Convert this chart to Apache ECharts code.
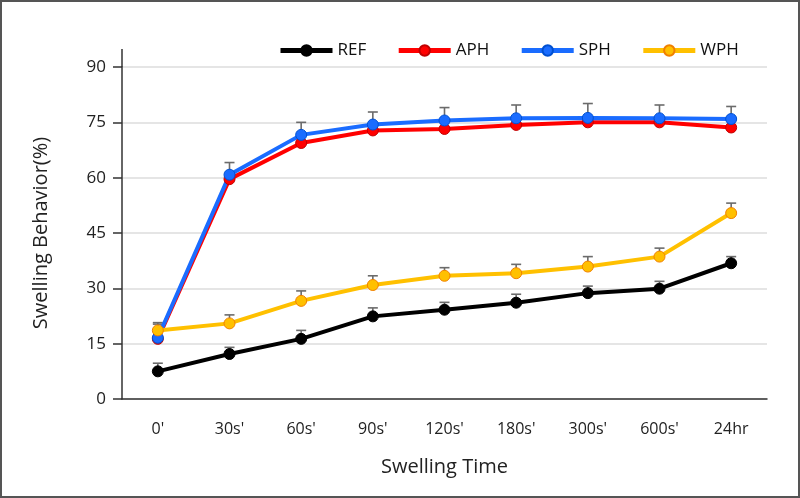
<!DOCTYPE html>
<html><head><meta charset="utf-8">
<script src="https://cdn.jsdelivr.net/npm/echarts@6/dist/echarts.min.js"></script>
<style>html,body{margin:0;padding:0;background:#fff}#c{width:800px;height:498px}</style>
</head><body><div id="c"></div>
<script>
const categories = ["0'", "30s'", "60s'", "90s'", "120s'", "180s'", "300s'", "600s'", "24hr"];
const yTicks = [0, 15, 30, 45, 60, 75, 90];
const REF = [7.5, 12.2, 16.3, 22.4, 24.2, 26.1, 28.7, 29.9, 36.8];
const APH = [16.3, 59.6, 69.4, 72.8, 73.2, 74.3, 75.0, 75.0, 73.6];
const SPH = [16.6, 60.8, 71.6, 74.4, 75.5, 76.1, 76.2, 76.1, 75.9];
const WPH = [18.6, 20.5, 26.6, 30.9, 33.4, 34.1, 35.9, 38.6, 50.4];
const REF_err = [2.2, 1.8, 2.3, 2.3, 2.0, 2.3, 1.9, 2.0, 1.8];
const SPH_err = [3.7, 3.3, 3.4, 3.4, 3.5, 3.6, 3.9, 3.6, 3.4];
const WPH_err = [2.1, 2.3, 2.7, 2.5, 2.2, 2.4, 2.7, 2.3, 2.7];

const FONT = "'Open Sans', 'Noto Sans', sans-serif";
const chart = echarts.init(document.getElementById('c'), null, {renderer: 'canvas'});

function errData(vals, errs) { return vals.map((v, i) => [i, v, errs[i]]); }
function errSeries(vals, errs) {
  return {
    type: 'custom', silent: true, z: 1,
    data: errData(vals, errs),
    renderItem: function (params, api) {
      const x = api.value(0), v = api.value(1), e = api.value(2);
      const p0 = api.coord([x, v]);
      const p1 = api.coord([x, v + e]);
      const w = 5;
      const st = {stroke: '#6b6b6b', lineWidth: 1.6};
      return {type: 'group', children: [
        {type: 'line', shape: {x1: p0[0], y1: p0[1], x2: p1[0], y2: p1[1]}, style: st},
        {type: 'line', shape: {x1: p1[0] - w, y1: p1[1], x2: p1[0] + w, y2: p1[1]}, style: st}
      ]};
    }
  };
}
function lineSeries(name, data, color, border) {
  return {
    name: name, type: 'line', data: data, z: 3,
    symbol: 'circle', symbolSize: 11,
    lineStyle: {color: color, width: 4},
    itemStyle: {color: color, borderColor: border, borderWidth: 1}
  };
}

chart.setOption({
  animation: false,
  textStyle: {fontFamily: FONT},
  grid: {left: 122, right: 33, top: 67, bottom: 99},
  legend: {
    data: ['REF', 'APH', 'SPH', 'WPH'],
    left: 273, top: 37, itemWidth: 52, itemHeight: 13, itemGap: 30,
    lineStyle: {width: 5},
    textStyle: {fontSize: 17, color: '#111', fontFamily: FONT}
  },
  xAxis: {
    type: 'category', data: categories, boundaryGap: true,
    name: 'Swelling Time', nameLocation: 'middle', nameGap: 58,
    nameTextStyle: {fontSize: 20, color: '#222', fontFamily: FONT},
    axisLine: {lineStyle: {color: '#333', width: 1.5}},
    axisTick: {show: false},
    axisLabel: {fontSize: 16, color: '#222', margin: 22, fontFamily: FONT}
  },
  yAxis: {
    type: 'value', min: yTicks[0], max: yTicks[yTicks.length - 1], interval: 15,
    name: 'Swelling Behavior(%)', nameLocation: 'middle', nameGap: 71,
    nameTextStyle: {fontSize: 20, color: '#222', fontFamily: FONT},
    axisLine: {show: true, lineStyle: {color: '#333', width: 1.5}},
    axisTick: {show: true, length: 9, lineStyle: {color: '#333', width: 1.5}},
    axisLabel: {fontSize: 17, color: '#222', margin: 16, fontFamily: FONT},
    splitLine: {lineStyle: {color: '#dcdcdc', width: 1.5}}
  },
  series: [
    errSeries(REF, REF_err),
    errSeries(SPH, SPH_err),
    errSeries(WPH, WPH_err),
    lineSeries('REF', REF, '#000000', '#000000'),
    lineSeries('APH', APH, '#ff0000', '#c00000'),
    lineSeries('SPH', SPH, '#1a6cff', '#0050d0'),
    lineSeries('WPH', WPH, '#ffc000', '#f08000')
  ]
});

const top90 = chart.convertToPixel({yAxisIndex: 0}, yTicks[yTicks.length - 1]);
const leftX = 122;
chart.setOption({
  graphic: [
    {type: 'line', shape: {x1: leftX, y1: top90 - 18, x2: leftX, y2: top90}, style: {stroke: '#333', lineWidth: 1.5}},
    {type: 'rect', shape: {x: 1, y: 1, width: 798, height: 496}, style: {fill: 'none', stroke: '#555', lineWidth: 2}}
  ]
});
</script></body></html>
